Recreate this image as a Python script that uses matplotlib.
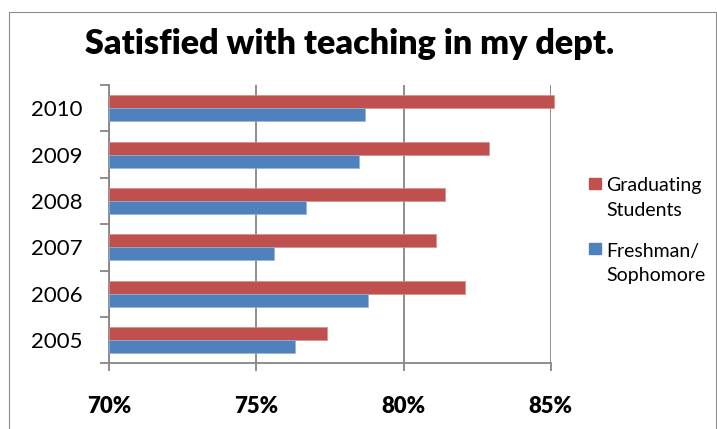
import numpy as np
import matplotlib.pyplot as plt
from matplotlib.patches import Rectangle

years = ['2005', '2006', '2007', '2008', '2009', '2010']
graduating = [77.4, 82.1, 81.1, 81.4, 82.9, 85.1]
freshman = [76.3, 78.8, 75.6, 76.7, 78.5, 78.7]
x_ticks = [70, 75, 80, 85]
series_labels = [['Graduating', 'Students'], ['Freshman/', 'Sophomore']]

red = '#C0504D'
blue = '#4F81BD'
gray = '#868686'

plt.rcParams['font.family'] = ['Lato', 'DejaVu Sans']

W, H = 717, 429
fig = plt.figure(figsize=(W / 100, H / 100), dpi=100)

# plot area in pixel terms: left 109, right 551, top 85, bottom 363
ax = fig.add_axes([109.3 / W, 1 - 363.3 / H, (550.7 - 109.3) / W, (363.3 - 85) / H])

pos = np.arange(len(years))
h = 0.28
base = x_ticks[0]
ax.barh(pos + h / 2, np.array(graduating) - base, left=base, height=h,
        color=red, edgecolor='#D68E8C', linewidth=0.5, clip_on=False, zorder=3)
ax.barh(pos - h / 2, np.array(freshman) - base, left=base, height=h,
        color=blue, edgecolor='#92B2DA', linewidth=0.5, clip_on=False, zorder=3)

ax.set_xlim(x_ticks[0], x_ticks[-1])
ax.set_ylim(-0.5, len(years) - 0.5)

ax.xaxis.grid(True, color=gray, linewidth=1.3, zorder=0)
ax.set_axisbelow(True)
for s in ['top', 'right']:
    ax.spines[s].set_visible(False)
for s in ['left', 'bottom']:
    ax.spines[s].set_color(gray)
    ax.spines[s].set_linewidth(1.3)

ax.set_xticks(x_ticks, labels=[f'{v}%' for v in x_ticks], fontweight='heavy')
ax.tick_params(axis='x', direction='out', length=6, width=1.3, color=gray,
               pad=17.5, labelsize=15.9)

# category boundaries get the tick marks, year labels sit between them
ax.set_yticks(np.arange(len(years) + 1) - 0.5, labels=[])
ax.set_yticks(pos, labels=years, minor=True)
ax.tick_params(axis='y', which='major', direction='out', length=6.5,
               width=1.3, color=gray)
ax.tick_params(axis='y', which='minor', length=0, pad=19.2, labelsize=16)

fig.text(350 / W, 1 - 53.5 / H, 'Satisfied with teaching in my dept.',
         ha='center', va='baseline', fontsize=24.6, fontweight='heavy')

# legend: square swatch beside the first line of each two-line label
for i, (lines, col) in enumerate(zip(series_labels, [red, blue])):
    top = 178 + i * 65
    fig.patches.append(Rectangle((589.3 / W, 1 - (top + 11.2) / H), 11.4 / W, 11.2 / H,
                                 transform=fig.transFigure, color=col))
    for j, line in enumerate(lines):
        fig.text(606 / W, 1 - (top + 13.5 + j * 24.3) / H, line,
                 ha='left', va='baseline', fontsize=14)

# outer chart frame
fig.patches.append(Rectangle((9.3 / W, -0.1), (716 - 9.3) / W, 1.1 - 11.7 / H,
                             transform=fig.transFigure, fill=False,
                             edgecolor='#8c8c8c', linewidth=0.8))

fig.savefig('out.png', dpi=100)
